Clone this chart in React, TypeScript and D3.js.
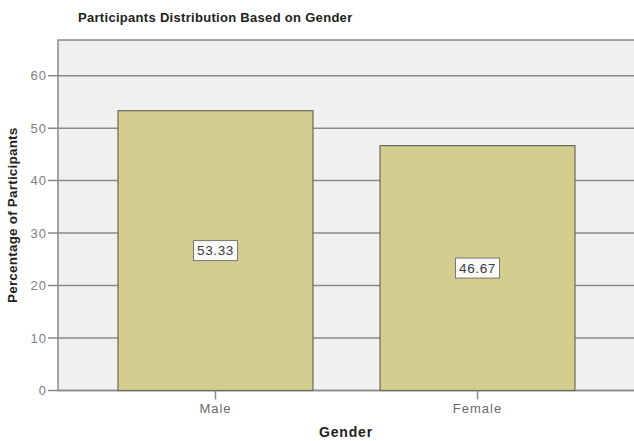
import React from "react";
import * as d3 from "d3";

const categories = ["Male", "Female"];
const values = [53.33, 46.67];
const valueLabels = ["53.33", "46.67"];
const yTicks = [0, 10, 20, 30, 40, 50, 60];

const W = 634;
const H = 441;
const plotLeft = 58;
const plotRight = 635;
const plotTop = 40;
const plotBottom = 390.5;

export default function App() {
  const y = d3.scaleLinear().domain([0, 66.8]).range([plotBottom, plotTop]);
  const x = d3
    .scaleBand<string>()
    .domain(categories)
    .range([plotLeft, plotRight])
    .paddingInner(0.256)
    .paddingOuter(0.229);

  const font = "Liberation Sans, Arial, sans-serif";

  return (
    <svg
      width={W}
      height={H}
      style={{ position: "absolute", left: 0, top: 0, background: "#fff" }}
      fontFamily={font}
    >
      <text x={78} y={21.5} fontSize={13} letterSpacing={0.3} fontWeight="bold" fill="#222">
        Participants Distribution Based on Gender
      </text>
      <rect
        x={plotLeft}
        y={plotTop}
        width={plotRight - plotLeft + 5}
        height={plotBottom - plotTop}
        fill="#f0f0f0"
        stroke="#8a8a8a"
        strokeWidth={1.5}
      />
      {yTicks.map((t) => (
        <g key={t}>
          <line
            x1={plotLeft - 10}
            x2={plotRight}
            y1={y(t)}
            y2={y(t)}
            stroke="#8a8a8a"
            strokeWidth={1.5}
          />
          <text
            x={plotLeft - 11}
            y={y(t)}
            dy="0.36em"
            textAnchor="end"
            fontSize={13}
            letterSpacing={1}
            fill="#808080"
          >
            {t}
          </text>
        </g>
      ))}
      {categories.map((c, i) => {
        const bx = x(c)!;
        const bw = x.bandwidth();
        const top = y(values[i]);
        const cx = bx + bw / 2;
        const cy = (top + plotBottom) / 2;
        return (
          <g key={c}>
            <rect
              x={bx}
              y={top}
              width={bw}
              height={plotBottom - top}
              fill="#d3cd90"
              stroke="#6a6a5a"
              strokeWidth={1.2}
            />
            <rect
              x={cx - 22}
              y={cy - 10}
              width={44}
              height={20}
              fill="#fbfbf6"
              stroke="#777"
              strokeWidth={1}
            />
            <text
              x={cx}
              y={cy}
              dy="0.36em"
              textAnchor="middle"
              fontSize={13.5}
              letterSpacing={0.6}
              fill="#3a3a48"
            >
              {valueLabels[i]}
            </text>
            <line
              x1={cx}
              x2={cx}
              y1={plotBottom}
              y2={plotBottom + 9}
              stroke="#8a8a8a"
              strokeWidth={1.5}
            />
            <text
              x={cx}
              y={plotBottom + 18}
              dy="0.36em"
              textAnchor="middle"
              fontSize={13}
              letterSpacing={1}
              fill="#6a6a6a"
            >
              {c}
            </text>
          </g>
        );
      })}
      <text
        x={(plotLeft + W) / 2}
        y={432}
        dy="0.36em"
        textAnchor="middle"
        fontSize={14}
        letterSpacing={0.8}
        fontWeight="bold"
        fill="#222"
      >
        Gender
      </text>
      <text
        transform={`translate(12.5, ${(plotTop + plotBottom) / 2}) rotate(-90)`}
        dy="0.36em"
        textAnchor="middle"
        fontSize={13.5}
        letterSpacing={0.2}
        fontWeight="bold"
        fill="#222"
      >
        Percentage of Participants
      </text>
    </svg>
  );
}
